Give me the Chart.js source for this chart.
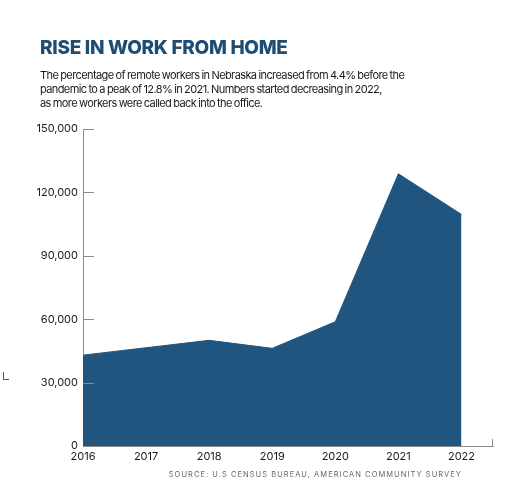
<!DOCTYPE html>
<html>
<head>
<meta charset="utf-8">
<script src="https://cdn.jsdelivr.net/npm/chart.js@4.4.1/dist/chart.umd.min.js"></script>
<style>
  html, body { margin: 0; padding: 0; background: #fff; }
  body { width: 505px; height: 500px; position: relative; overflow: hidden; font-family: Inter, "Liberation Sans", sans-serif; }
  #wrap { position: absolute; left: 0; top: 0; width: 505px; height: 500px; }
  h1 { position: absolute; left: 40px; top: 36px; margin: 0; font-size: 19px; font-weight: 800; color: #1e4d74; letter-spacing: -0.3px; }
  .sub { position: absolute; left: 40px; top: 68px; margin: 0; font-size: 11px; line-height: 14px; color: #1a1a1a; letter-spacing: -0.6px; word-spacing: -0.5px; }
  .src { position: absolute; right: 43px; top: 470px; font-size: 7.5px; letter-spacing: 1.05px; color: #666; }
  .crop { position: absolute; left: 3px; top: 372px; width: 5px; height: 7px; border-left: 1px solid #555; border-bottom: 1px solid #555; }
</style>
</head>
<body>
<div id="wrap"><canvas id="chart"></canvas></div>
<h1>RISE IN WORK FROM HOME</h1>
<p class="sub">The percentage of remote workers in Nebraska increased from 4.4% before the<br>pandemic to a peak of 12.8% in 2021. Numbers started decreasing in 2022,<br>as more workers were called back into the office.</p>
<div class="src">SOURCE: U.S CENSUS BUREAU, AMERICAN COMMUNITY SURVEY</div>
<div class="crop"></div>
<script>
  var years = [2016, 2017, 2018, 2019, 2020, 2021, 2022];
  var remoteWorkers = [43000, 46500, 50000, 46200, 58800, 128800, 109600];
  var yTicks = [0, 30000, 60000, 90000, 120000, 150000];

  var axisColor = '#8a8a8a';
  var fillColor = '#1f557f';

  // short inward ticks on the y axis and the end tick on the x axis
  var axisMarks = {
    id: 'axisMarks',
    afterDraw: function (chart) {
      var ctx = chart.ctx;
      var area = chart.chartArea;
      var y = chart.scales.y;
      ctx.save();
      ctx.strokeStyle = axisColor;
      ctx.lineWidth = 1;
      ctx.beginPath();
      y.ticks.forEach(function (t) {
        var py = Math.round(y.getPixelForValue(t.value)) + 0.5;
        ctx.moveTo(area.left, py);
        ctx.lineTo(area.left + 11, py);
      });
      var xr = Math.round(area.right) - 0.5;
      ctx.moveTo(xr, area.bottom);
      ctx.lineTo(xr, area.bottom - 7);
      ctx.stroke();
      ctx.restore();
    }
  };

  new Chart(document.getElementById('chart').getContext('2d'), {
    type: 'line',
    data: {
      datasets: [{
        data: years.map(function (yr, i) { return { x: yr, y: remoteWorkers[i] }; }),
        fill: 'origin',
        backgroundColor: fillColor,
        borderColor: fillColor,
        borderWidth: 1,
        pointRadius: 0,
        tension: 0
      }]
    },
    options: {
      responsive: true,
      maintainAspectRatio: false,
      animation: false,
      layout: { padding: { left: 0, right: 12, top: 129, bottom: 0 } },
      plugins: { legend: { display: false }, tooltip: { enabled: false } },
      scales: {
        x: {
          type: 'linear',
          min: 2016,
          max: 2022.5,
          afterFit: function (s) { s.height = 54; },
          afterBuildTicks: function (s) {
            s.ticks = years.map(function (v) { return { value: v }; });
          },
          ticks: {
            autoSkip: false,
            maxRotation: 0,
            padding: 4,
            color: '#1a1a1a',
            font: { family: 'Inter', size: 11 },
            callback: function (v) { return String(v); }
          },
          grid: { display: false, drawTicks: false, tickLength: 0 },
          border: { display: true, color: axisColor, width: 1 }
        },
        y: {
          min: 0,
          max: 150000,
          afterFit: function (s) { s.width = 83; },
          afterBuildTicks: function (s) {
            s.ticks = yTicks.map(function (v) { return { value: v }; });
          },
          ticks: {
            padding: 5,
            color: '#1a1a1a',
            font: { family: 'Inter', size: 11 },
            callback: function (v) { return v.toLocaleString('en-US'); }
          },
          grid: { display: false, drawTicks: false, tickLength: 0 },
          border: { display: true, color: axisColor, width: 1 }
        }
      }
    },
    plugins: [axisMarks]
  });
</script>
</body>
</html>
